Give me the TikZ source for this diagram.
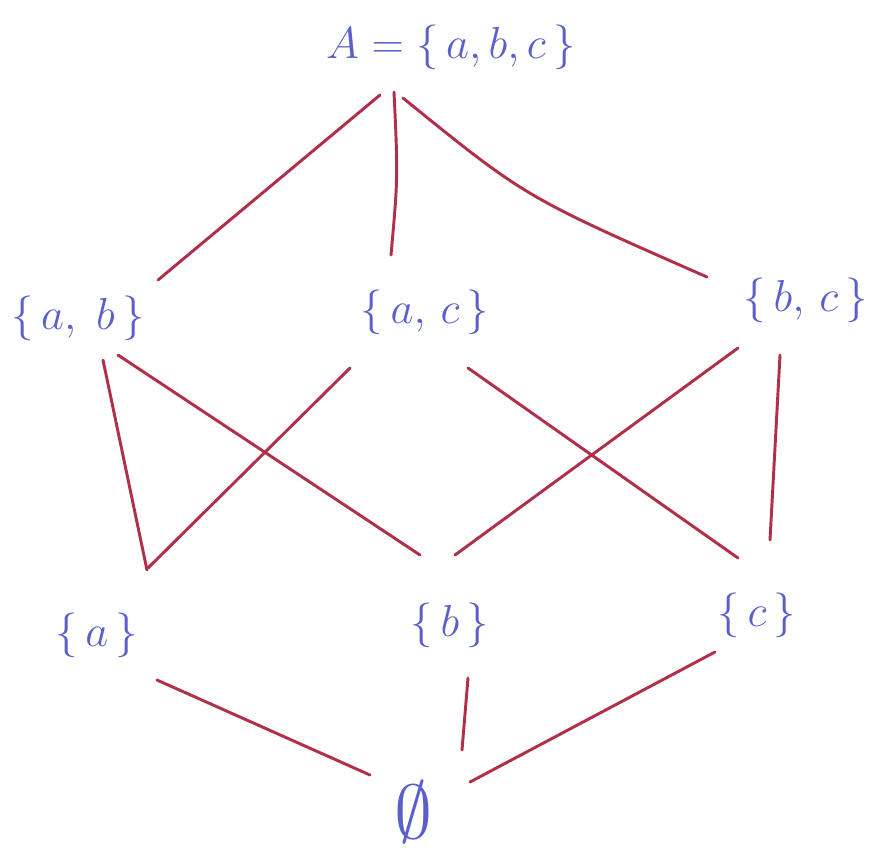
\documentclass[tikz,border=0pt]{standalone}
\usetikzlibrary{calc}
\definecolor{inkblue}{HTML}{5A5FCC}
\definecolor{inkred}{HTML}{B0304A}
\begin{document}
\begin{tikzpicture}[x=0.75pt,y=-0.75pt,
  lbl/.style={text=inkblue,font=\Huge,inner sep=0pt,scale=1.35},
  edge/.style={draw=inkred,line width=2.2pt,line cap=round}]
\useasboundingbox (0,0) rectangle (881,854);
\node[lbl] (top) at (451,47) {$A = \{\,a,b,c\,\}$};
\node[lbl] (ab) at (78,318) {$\{\,a,\;b\,\}$};
\node[lbl] (ac) at (425,312) {$\{\,a,\,c\,\}$};
\node[lbl] (bc) at (806,300) {$\{\,b,\,c\,\}$};
\node[lbl] (a) at (97,635) {$\{\,a\,\}$};
\node[lbl] (b) at (450,625) {$\{\,b\,\}$};
\node[lbl] (c) at (757,615) {$\{\,c\,\}$};
\node[lbl,scale=1.7] (e) at (414,812) {$\emptyset$};
\draw[edge] ($(top)+(-71,48)$) -- ($(ab)+(80,-38)$);
\draw[edge] ($(top)+(-57,45)$) .. controls ($(top)+(-53,130)$) .. ($(ac)+(-34,-57)$);
\draw[edge] ($(top)+(-48,51)$) .. controls ($(top)+(74,150)$) .. ($(bc)+(-99,-23)$);
\draw[edge] ($(ab)+(25,42)$) -- ($(a)+(50,-65)$);
\draw[edge] ($(ab)+(40,37)$) -- ($(b)+(-30,-70)$);
\draw[edge] ($(ac)+(-75,56)$) -- ($(a)+(51,-67)$);
\draw[edge] ($(ac)+(43,56)$) -- ($(c)+(-19,-57)$);
\draw[edge] ($(bc)+(-68,48)$) -- ($(b)+(5,-70)$);
\draw[edge] ($(bc)+(-26,55)$) -- ($(c)+(13,-75)$);
\draw[edge] ($(a)+(60,45)$) -- ($(e)+(-44,-37)$);
\draw[edge] ($(b)+(18,53)$) -- ($(e)+(48,-62)$);
\draw[edge] ($(c)+(-42,37)$) -- ($(e)+(56,-30)$);
\end{tikzpicture}
\end{document}
